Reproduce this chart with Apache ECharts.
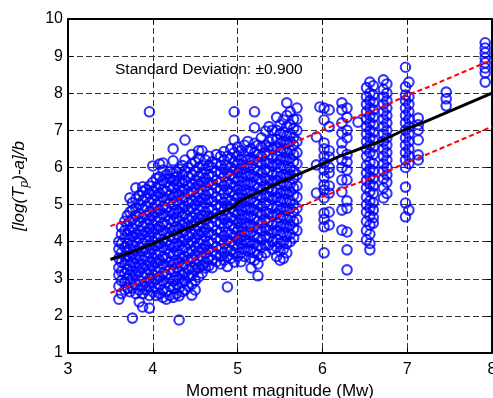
<!DOCTYPE html>
<html>
<head>
<meta charset="utf-8">
<script src="https://cdn.jsdelivr.net/npm/echarts@6/dist/echarts.min.js"></script>
<style>
html,body{margin:0;padding:0;background:#fff;overflow:hidden;}
#chart{width:493px;height:398px;}
</style>
</head>
<body>
<div id="chart"></div>
<script>
// x ticks / y ticks
const xTicks = [3, 4, 5, 6, 7, 8];
const yTicks = [1, 2, 3, 4, 5, 6, 7, 8, 9, 10];

// Scatter columns: Mw positions and the observed values stacked at each
const denseX = [3.60,3.63,3.67,3.70,3.73,3.76,3.80,3.84,3.88,3.92,3.96,4.00,4.04,4.08,4.12,4.16,4.20,4.24,4.28,4.31,4.35,4.38,4.42,4.46,4.50,4.54,4.58,4.62,4.66,4.70,4.75,4.80,4.84,4.88,4.92,4.96,5.00,5.04,5.08,5.12,5.16,5.20,5.24,5.28,5.33,5.37,5.41,5.46,5.50,5.54,5.58,5.62,5.66,5.70];
const denseY = [
 [2.45,2.8,3.1,3.3,3.55,3.8,4.0],
 [2.6,2.95,3.2,3.45,3.7,3.95,4.2,4.4],
 [2.7,2.9,3.15,3.4,3.6,3.85,4.1,4.3,4.55],
 [2.75,3.0,3.25,3.5,3.75,3.95,4.2,4.45,4.7],
 [2.65,2.9,3.1,3.35,3.6,3.8,4.05,4.3,4.55,4.8,5.18],
 [1.94,2.75,3.0,3.2,3.45,3.65,3.9,4.15,4.35,4.6,4.85,5.05],
 [2.6,2.85,3.1,3.3,3.55,3.75,4.0,4.2,4.45,4.7,4.9,5.15,5.45],
 [2.38,2.7,2.95,3.2,3.4,3.6,3.85,4.1,4.3,4.55,4.75,5.0,5.25],
 [2.24,2.6,2.8,3.05,3.3,3.5,3.75,3.95,4.2,4.4,4.65,4.9,5.1,5.35,5.48],
 [2.7,2.9,3.15,3.35,3.6,3.8,4.05,4.25,4.5,4.7,4.95,5.2,5.4],
 [2.21,2.55,2.8,3.0,3.25,3.45,3.7,3.9,4.15,4.35,4.6,4.8,5.05,5.3,5.5,7.5],
 [2.65,2.9,3.1,3.35,3.55,3.8,4.0,4.25,4.45,4.7,4.9,5.15,5.35,5.6,6.04],
 [2.55,2.75,3.0,3.2,3.45,3.65,3.9,4.1,4.35,4.55,4.8,5.0,5.25,5.45,5.7],
 [2.6,2.85,3.05,3.3,3.5,3.75,3.95,4.2,4.4,4.65,4.85,5.1,5.3,5.55,5.75,6.09],
 [2.5,2.7,2.95,3.15,3.4,3.6,3.85,4.05,4.3,4.5,4.75,4.95,5.2,5.4,5.65,5.93,6.12],
 [2.45,2.65,2.9,3.1,3.35,3.55,3.8,4.0,4.25,4.45,4.7,4.9,5.15,5.35,5.6,5.8],
 [2.55,2.8,3.0,3.25,3.45,3.7,3.9,4.15,4.35,4.6,4.8,5.05,5.25,5.5,5.7,5.9],
 [2.5,2.75,2.95,3.2,3.4,3.65,3.85,4.1,4.3,4.55,4.75,5.0,5.2,5.45,5.65,5.85,6.18,6.5],
 [2.6,2.85,3.05,3.3,3.5,3.75,3.95,4.2,4.4,4.65,4.85,5.1,5.3,5.55,5.75,5.89],
 [1.89,2.54,2.75,3.0,3.2,3.45,3.65,3.9,4.1,4.35,4.55,4.8,5.0,5.25,5.45,5.62,5.95],
 [2.65,2.9,3.1,3.35,3.55,3.8,4.0,4.25,4.45,4.7,4.9,5.15,5.35,5.6,5.8,6.05],
 [2.7,2.95,3.15,3.4,3.6,3.85,4.05,4.3,4.5,4.75,4.95,5.2,5.4,5.65,5.9,6.2,6.74],
 [2.8,3.05,3.25,3.5,3.7,3.95,4.15,4.4,4.6,4.85,5.05,5.3,5.5,5.75,6.0],
 [2.56,2.85,3.1,3.3,3.55,3.75,4.0,4.2,4.45,4.65,4.9,5.1,5.35,5.55,5.8,6.1,6.35],
 [2.7,2.95,3.24,3.4,3.65,3.85,4.1,4.3,4.55,4.75,5.0,5.2,5.45,5.65,5.9,6.15],
 [3.05,3.3,3.5,3.75,3.95,4.2,4.4,4.65,4.85,5.1,5.3,5.55,5.75,6.0,6.25,6.45],
 [3.15,3.35,3.6,3.8,4.05,4.25,4.5,4.7,4.95,5.15,5.4,5.6,5.85,6.05,6.45],
 [3.29,3.45,3.7,3.9,4.15,4.35,4.6,4.8,5.05,5.25,5.5,5.7,5.95,6.2],
 [3.35,3.55,3.8,4.0,4.25,4.45,4.7,4.9,5.15,5.35,5.6,5.8,6.05,6.3],
 [3.3,3.5,3.75,3.95,4.2,4.4,4.65,4.85,5.1,5.3,5.55,5.75,6.0,6.15],
 [3.46,3.65,3.85,4.1,4.3,4.55,4.75,5.0,5.2,5.45,5.65,5.9,6.1,6.35],
 [3.4,3.6,3.8,4.05,4.25,4.5,4.7,4.95,5.15,5.4,5.6,5.85,6.05,6.3],
 [3.5,3.7,3.95,4.15,4.4,4.6,4.85,5.05,5.3,5.5,5.75,5.95,6.2,6.43],
 [2.78,3.33,3.6,3.8,4.05,4.25,4.5,4.7,4.95,5.15,5.4,5.6,5.85,6.05,6.3],
 [3.55,3.75,4.0,4.2,4.45,4.65,4.9,5.1,5.35,5.55,5.8,6.0,6.25,6.5],
 [3.45,3.7,3.9,4.15,4.35,4.6,4.8,5.05,5.25,5.5,5.7,5.95,6.15,6.4,6.74,7.5],
 [3.6,3.85,4.05,4.3,4.5,4.75,4.95,5.2,5.4,5.65,5.85,6.1,6.3,6.55],
 [3.46,3.7,3.95,4.15,4.4,4.6,4.85,5.05,5.3,5.5,5.75,5.95,6.2,6.45],
 [3.6,3.8,4.05,4.25,4.5,4.7,4.95,5.15,5.4,5.6,5.85,6.05,6.3,6.6],
 [3.75,3.95,4.2,4.4,4.65,4.85,5.1,5.3,5.55,5.75,6.0,6.2,6.45,6.7],
 [3.29,3.55,3.8,4.0,4.25,4.45,4.7,4.9,5.15,5.35,5.6,5.8,6.05,6.25,6.5],
 [3.5,3.7,3.95,4.15,4.4,4.6,4.85,5.05,5.3,5.5,5.75,5.95,6.2,6.4,6.65,7.07,7.5],
 [3.08,3.4,3.65,3.9,4.1,4.35,4.55,4.8,5.0,5.25,5.45,5.7,5.9,6.15,6.35,6.6],
 [3.6,3.85,4.05,4.3,4.5,4.75,4.95,5.2,5.4,5.65,5.85,6.1,6.3,6.55,6.8],
 [3.7,3.9,4.15,4.35,4.6,4.8,5.05,5.25,5.5,5.7,5.95,6.15,6.4,6.6,6.98],
 [3.91,4.1,4.3,4.55,4.75,5.0,5.2,5.45,5.65,5.9,6.1,6.35,6.55,6.7,7.1],
 [3.8,4.0,4.25,4.45,4.7,4.9,5.15,5.35,5.6,5.8,6.05,6.25,6.5,6.75,7.0],
 [3.6,3.85,4.05,4.3,4.5,4.75,4.95,5.2,5.4,5.65,5.85,6.1,6.3,6.55,6.75,7.0,7.35],
 [3.5,3.75,3.95,4.2,4.4,4.65,4.85,5.1,5.3,5.55,5.75,6.0,6.2,6.45,6.65,6.9,7.15],
 [3.55,3.8,4.0,4.25,4.45,4.7,4.9,5.15,5.35,5.6,5.8,6.05,6.25,6.5,6.7,6.95,7.28],
 [3.7,3.95,4.15,4.4,4.6,4.85,5.05,5.3,5.5,5.75,5.95,6.2,6.4,6.65,6.85,7.1,7.4,7.74],
 [4.0,4.2,4.45,4.65,4.9,5.1,5.35,5.55,5.8,6.0,6.25,6.45,6.7,6.9,7.15,7.5],
 [4.1,4.35,4.55,4.8,5.0,5.25,5.45,5.7,5.9,6.15,6.35,6.6,6.8,7.05,7.3],
 [4.3,4.6,4.9,5.2,5.5,5.8,6.1,6.4,6.7,7.0,7.3,7.6]
];
const sparseX = [5.93,5.97,6.02,6.08,6.23,6.29,6.42,6.52,6.56,6.60,6.72,6.76,6.98,7.02,7.13,7.46,7.92];
const sparseY = [
 [5.31,6.07,6.82],
 [7.63],
 [3.7,4.4,4.6,4.77,5.18,5.39,5.53,5.74,5.93,6.12,6.3,6.5,6.66,7.28,7.6],
 [4.45,4.8,5.31,5.5,5.85,6.0,6.28,6.45,7.1,7.55],
 [4.31,4.85,5.34,5.66,6.0,6.2,6.45,6.66,6.93,7.2,7.55,7.74],
 [3.24,3.78,4.26,4.9,5.1,5.66,5.93,6.15,6.35,6.8,7.0,7.35,7.6],
 [7.22],
 [4.05,4.3,4.55,4.8,5.0,5.2,5.45,5.65,5.85,6.05,6.3,6.5,6.7,6.9,7.1,7.3,7.5,7.7,7.9,8.15],
 [3.78,3.95,4.2,4.45,4.7,4.9,5.1,5.35,5.55,5.75,5.95,6.15,6.4,6.6,6.8,7.0,7.2,7.4,7.6,7.8,8.0,8.3],
 [4.5,4.65,4.85,5.05,5.3,5.5,5.7,5.9,6.1,6.35,6.55,6.75,6.95,7.15,7.35,7.55,7.75,7.95,8.2],
 [5.18,5.45,5.7,5.9,6.1,6.3,6.5,6.7,6.9,7.1,7.3,7.5,7.7,7.9,8.1,8.36],
 [5.3,5.6,5.8,6.0,6.2,6.4,6.6,6.8,7.0,7.2,7.4,7.6,7.8,8.0,8.25],
 [4.67,5.04,5.47,6.0,6.2,6.4,6.6,6.8,7.0,7.2,7.4,7.6,7.8,7.95,8.17,8.7],
 [4.85,6.1,6.3,6.5,6.7,6.9,7.1,7.3,7.5,7.7,7.9,8.3],
 [6.2,6.34,6.74,7.01,7.15,7.33],
 [7.66,7.85,8.03],
 [8.3,8.55,8.68,8.82,8.95,9.09,9.22,9.36]
];

// Fitted trend and ±1 standard deviation bounds
const fitX     = [3.5, 3.75, 4.0, 4.3, 4.55, 4.95, 5.03, 5.4, 5.75, 6.2, 6.5, 6.7, 7.0, 7.2, 8.0];
const fitY     = [3.52,3.72,3.95,4.25,4.5, 4.94,5.1, 5.5, 5.85,6.3, 6.55,6.72,7.05,7.22,8.0];
const upperY   = [4.42,4.62,4.85,5.15,5.4, 5.84,6.0, 6.4, 6.75,7.2, 7.45,7.62,7.95,8.12,8.9];
const lowerY   = [2.62,2.82,3.05,3.35,3.6, 4.04,4.2, 4.6, 4.95,5.4, 5.65,5.82,6.15,6.32,7.1];
const sdText = 'Standard Deviation: \u00b10.900';

function cols(xs, ys) {
  const out = [];
  xs.forEach((x, i) => ys[i].forEach(y => out.push([x, y])));
  return out;
}
const scatterData = cols(denseX, denseY).concat(cols(sparseX, sparseY));
const pair = (xs, ys) => xs.map((x, i) => [x, ys[i]]);

const FONT = '"Liberation Sans", Arial, Helvetica, sans-serif';
const chart = echarts.init(document.getElementById('chart'), null, {renderer: 'canvas'});

const axisBase = {
  type: 'value',
  axisLine: {show: true, onZero: false, lineStyle: {color: '#000', width: 2}},
  axisTick: {show: true, inside: true, length: 5, lineStyle: {color: '#000', width: 1}},
};

chart.setOption({
  animation: false,
  backgroundColor: '#fff',
  grid: {left: 68, top: 19, right: 1, bottom: 45, containLabel: false, outerBoundsMode: 'none'},
  xAxis: [
    Object.assign({}, axisBase, {
      min: xTicks[0], max: xTicks[xTicks.length - 1], interval: 1,
      position: 'bottom',
      name: 'Moment magnitude (Mw)', nameLocation: 'middle', nameGap: 27,
      nameTextStyle: {fontFamily: FONT, fontSize: 17, color: '#000'},
      axisLabel: {fontFamily: FONT, fontSize: 16, color: '#000', margin: 9},
      splitLine: {show: true, lineStyle: {color: '#333', width: 1, type: [6, 3]}}
    }),
    Object.assign({}, axisBase, {
      min: xTicks[0], max: xTicks[xTicks.length - 1], interval: 1,
      position: 'top', axisLabel: {show: false}, splitLine: {show: false}
    })
  ],
  yAxis: [
    Object.assign({}, axisBase, {
      min: yTicks[0], max: yTicks[yTicks.length - 1], interval: 1,
      position: 'left',
      name: '{i|[log(T}{s|p}{i|)-a]/b}', nameLocation: 'middle', nameGap: 37, nameRotate: 90,
      nameTextStyle: {
        fontFamily: FONT, color: '#000',
        rich: {
          i: {fontFamily: FONT, fontStyle: 'italic', fontSize: 17, color: '#000', lineHeight: 24, verticalAlign: 'middle'},
          s: {fontFamily: FONT, fontStyle: 'italic', fontSize: 12, color: '#000', lineHeight: 12, verticalAlign: 'bottom'}
        }
      },
      axisLabel: {fontFamily: FONT, fontSize: 16, color: '#000', margin: 5},
      splitLine: {show: true, lineStyle: {color: '#333', width: 1, type: [6, 3]}}
    }),
    Object.assign({}, axisBase, {
      min: yTicks[0], max: yTicks[yTicks.length - 1], interval: 1,
      position: 'right', axisLabel: {show: false}, splitLine: {show: false}
    })
  ],
  graphic: [{
    type: 'text', left: 115, top: 62, z: 10,
    style: {text: sdText, font: '15.5px ' + FONT, fill: '#000'}
  }],
  series: [
    {
      type: 'scatter', data: scatterData, symbol: 'circle', symbolSize: 9.5, z: 2,
      itemStyle: {color: 'rgba(0,0,0,0)', borderColor: '#0000ff', borderWidth: 2.1},
      emphasis: {disabled: true}, silent: true
    },
    {
      type: 'line', data: pair(fitX, fitY), showSymbol: false, symbol: 'none', z: 4,
      lineStyle: {color: '#000', width: 3}, silent: true
    },
    {
      type: 'line', data: pair(fitX, upperY), showSymbol: false, symbol: 'none', z: 3,
      lineStyle: {color: '#ff0000', width: 2, type: [5, 3]}, silent: true
    },
    {
      type: 'line', data: pair(fitX, lowerY), showSymbol: false, symbol: 'none', z: 3,
      lineStyle: {color: '#ff0000', width: 2, type: [5, 3]}, silent: true
    }
  ]
});
</script>
</body>
</html>
